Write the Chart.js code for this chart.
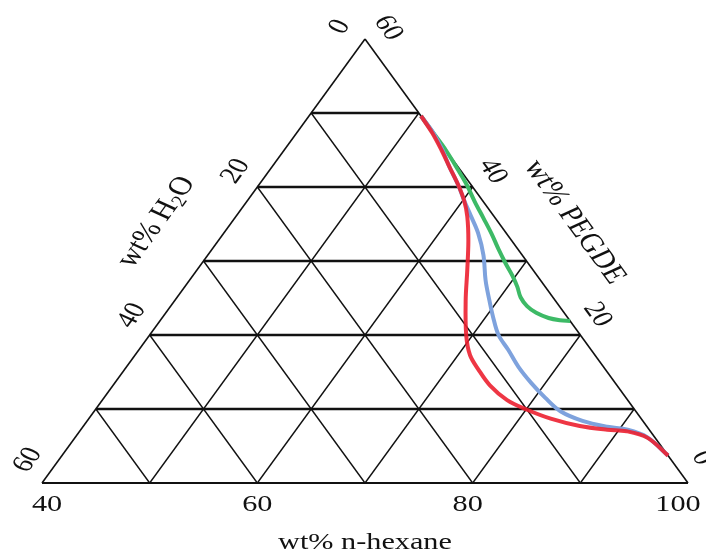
<!DOCTYPE html>
<html lang="en">
<head>
    <meta charset="UTF-8">
    <title>Ternary diagram</title>
    <style>
        body {
            margin: 0;
            padding: 0;
            background: #ffffff;
        }

        #chartBox {
            width: 706px;
            height: 555px;
        }
    </style>
</head>

<body>
    <div id="chartBox">
        <canvas id="ternaryChart" width="706" height="555"></canvas>
    </div>

    <script src="https://cdn.jsdelivr.net/npm/chart.js"></script>

    <script>
        // binodal curves (wt% n-hexane, wt% PEGDE)
        const greenHexane = [50.4, 52.7, 55.0, 57.5, 59.3, 61.2, 63.1, 64.9, 66.6, 68.2, 69.7, 70.9, 71.9, 73.1, 74.4, 75.9, 77.1, 78.1];
        const greenPegde  = [49.6, 47.3, 45.0, 42.3, 40.3, 38.0, 35.8, 33.7, 31.6, 29.7, 28.0, 26.5, 25.1, 23.9, 23.0, 22.3, 22.0, 21.9];

        const blueHexane = [50.4, 52.7, 54.7, 56.5, 58.5, 60.1, 61.7, 63.6, 65.6, 67.5, 69.2, 70.7, 72.4, 74.3, 76.4, 78.7, 81.0, 83.3, 86.0, 88.7, 90.8, 93.1, 96.3];
        const bluePegde  = [49.6, 47.3, 45.0, 42.7, 40.3, 38.2, 36.2, 33.8, 30.8, 27.4, 24.7, 22.4, 20.0, 18.0, 15.7, 13.5, 11.5, 9.7, 8.4, 7.6, 7.2, 6.2, 3.7];

        const redHexane = [50.4, 52.6, 54.6, 56.5, 58.5, 60.1, 61.5, 63.2, 65.1, 67.0, 69.4, 71.1, 72.9, 75.0, 77.6, 80.1, 82.9, 86.1, 88.9, 90.8, 93.2, 96.3];
        const redPegde  = [49.6, 47.3, 45.0, 42.7, 40.3, 38.2, 36.0, 32.8, 28.8, 24.7, 20.0, 17.3, 15.3, 13.2, 11.2, 9.9, 8.7, 7.7, 7.2, 7.0, 6.1, 3.7];

        // axis ranges and tick labels
        const hexaneMin = 40;
        const hexaneMax = 100;
        const pegdeMax = 60;
        const gridLevels = [10, 20, 30, 40, 50];
        const hexaneTicks = [40, 60, 80, 100];
        const h2oTicks = [0, 20, 40, 60];
        const pegdeTicks = [60, 40, 20, 0];

        const FONT = '"Liberation Serif", "Times New Roman", serif';
        const STRETCH = 1.26; // the picture is wider than an equilateral triangle

        // ternary (hexane, pegde) -> plot coords
        function toXY(h, p) {
            return { x: h + p / 2, y: p };
        }

        function curve(hex, peg) {
            return hex.map((h, i) => toXY(h, peg[i]));
        }

        function gridLine(points, width) {
            return {
                data: points,
                showLine: true,
                borderColor: '#111111',
                borderWidth: width,
                pointRadius: 0,
                tension: 0,
                clip: false,
                order: 10
            };
        }

        const datasets = [];

        // triangle outline
        datasets.push(gridLine([toXY(hexaneMin, 0), toXY(hexaneMax, 0)], 2.2));
        datasets.push(gridLine([toXY(hexaneMin, 0), toXY(hexaneMin, pegdeMax)], 1.6));
        datasets.push(gridLine([toXY(hexaneMax, 0), toXY(hexaneMax - pegdeMax, pegdeMax)], 1.6));

        gridLevels.forEach(v => {
            // constant PEGDE (horizontal)
            datasets.push(gridLine([toXY(hexaneMin, v), toXY(100 - v, v)], 2.6));
            // constant n-hexane
            const h = hexaneMin + v;
            datasets.push(gridLine([toXY(h, 0), toXY(h, 100 - h)], 1.4));
            // constant H2O
            const w = v;
            datasets.push(gridLine([toXY(100 - w, 0), toXY(hexaneMin, 60 - w)], 1.4));
        });

        function binodal(hex, peg, color, order) {
            return {
                data: curve(hex, peg),
                showLine: true,
                borderColor: color,
                borderWidth: 4,
                pointRadius: 0,
                tension: 0.35,
                clip: false,
                order: order
            };
        }

        datasets.push(binodal(greenHexane, greenPegde, '#3dba66', 3));
        datasets.push(binodal(blueHexane, bluePegde, '#7ea2dd', 2));
        datasets.push(binodal(redHexane, redPegde, 'rgba(236, 32, 48, 0.9)', 1));

        function drawText(ctx, text, x, y, angle, size) {
            ctx.save();
            ctx.translate(x, y);
            ctx.scale(STRETCH, 1);
            ctx.rotate(angle);
            ctx.font = size + 'px ' + FONT;
            ctx.fillStyle = '#111111';
            ctx.textAlign = 'center';
            ctx.textBaseline = 'middle';
            ctx.fillText(text, 0, 0);
            ctx.restore();
        }

        const labelPlugin = {
            id: 'ternaryLabels',
            afterDraw(chart) {
                const ctx = chart.ctx;
                const sx = chart.scales.x;
                const sy = chart.scales.y;
                const px = (h, p) => {
                    const c = toXY(h, p);
                    return [sx.getPixelForValue(c.x), sy.getPixelForValue(c.y)];
                };

                // bottom: n-hexane
                hexaneTicks.forEach(h => {
                    const t = (h - hexaneMin) / (hexaneMax - hexaneMin);
                    const [x, y] = px(h, 0);
                    drawText(ctx, String(h), x + 5 - 15 * t, y + 22, 0, 24);
                });

                // left side: H2O
                h2oTicks.forEach(w => {
                    const t = w / 60;
                    const [x, y] = px(hexaneMin, 60 - w);
                    drawText(ctx, String(w), x - 25 + 11 * t, y - 12 - 11 * t, -Math.PI / 3, 24);
                });

                // right side: PEGDE
                pegdeTicks.forEach(p => {
                    const t = (60 - p) / 60;
                    const [x, y] = px(100 - p, p);
                    drawText(ctx, String(p), x + 23 - 9 * t, y - 11 - 14 * t, Math.PI / 3, 24);
                });

                // axis titles
                const [bx] = px(70, 0);
                drawText(ctx, 'wt% n-hexane', bx, chart.chartArea.bottom + 60, 0, 24);

                const [rx, ry] = px(70, 30);
                drawText(ctx, 'wt% PEGDE', rx + 48, ry - 39, Math.PI / 3, 26);

                // wt% H2O with subscript
                const [lx, ly] = px(hexaneMin, 30);
                ctx.save();
                ctx.translate(lx - 47, ly - 39);
                ctx.scale(STRETCH, 1);
                ctx.rotate(-Math.PI / 3);
                ctx.fillStyle = '#111111';
                ctx.textBaseline = 'middle';
                ctx.textAlign = 'left';
                ctx.font = '26px ' + FONT;
                const a = ctx.measureText('wt% H').width;
                const o = ctx.measureText('O').width;
                ctx.font = '17px ' + FONT;
                const s = ctx.measureText('2').width;
                let cx = -(a + s + o) / 2;
                ctx.font = '26px ' + FONT;
                ctx.fillText('wt% H', cx, 0);
                cx += a;
                ctx.font = '17px ' + FONT;
                ctx.fillText('2', cx, 6);
                cx += s;
                ctx.font = '26px ' + FONT;
                ctx.fillText('O', cx, 0);
                ctx.restore();
            }
        };

        new Chart(document.getElementById('ternaryChart'), {
            type: 'scatter',
            data: { datasets: datasets },
            options: {
                responsive: false,
                animation: false,
                layout: {
                    padding: { left: 42, right: 18, top: 39, bottom: 72 }
                },
                scales: {
                    x: { type: 'linear', min: hexaneMin, max: hexaneMax, display: false },
                    y: { type: 'linear', min: 0, max: pegdeMax, display: false }
                },
                plugins: {
                    legend: { display: false },
                    tooltip: { enabled: false }
                }
            },
            plugins: [labelPlugin]
        });
    </script>
</body>
</html>
